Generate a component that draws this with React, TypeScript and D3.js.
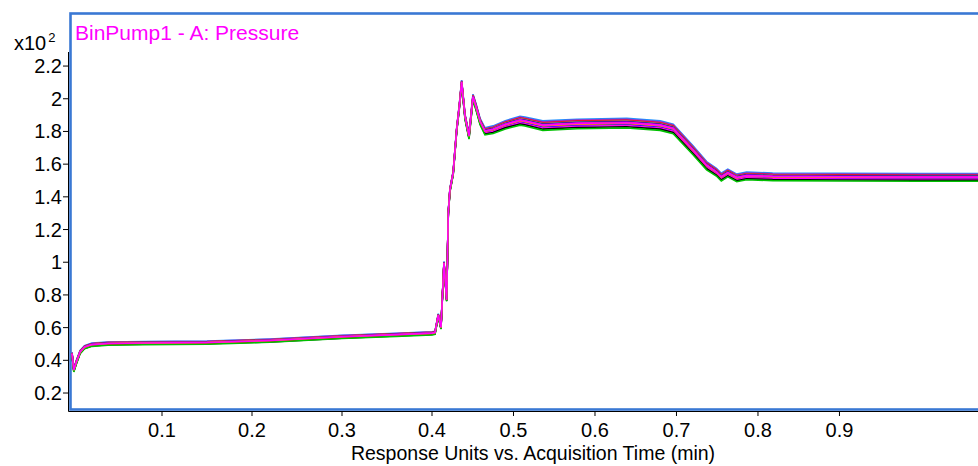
import React from "react";
import * as d3 from "d3";

// acquisition time (min) and pressure (x10^2 bar)
const times = [
  0.0, 0.002, 0.005, 0.009, 0.014, 0.022, 0.04, 0.08, 0.15, 0.22, 0.3, 0.36, 0.4,
  0.4037, 0.4077, 0.411, 0.4147, 0.418, 0.42, 0.422, 0.426, 0.4303, 0.4335, 0.4364,
  0.4405, 0.4454, 0.4503, 0.454, 0.459, 0.465, 0.475, 0.49, 0.508, 0.514, 0.536,
  0.578, 0.639, 0.68, 0.696, 0.72, 0.737, 0.749, 0.755, 0.763, 0.774, 0.786, 0.818,
  0.9, 1.0, 1.07,
];
const pressure = [
  0.44, 0.34, 0.39, 0.45, 0.48, 0.495, 0.502, 0.505, 0.508, 0.52, 0.543, 0.556, 0.565,
  0.568, 0.675, 0.6, 0.995, 0.77, 1.3, 1.44, 1.545, 1.81, 1.95, 2.1,
  1.89, 1.77, 2.01, 1.95, 1.86, 1.8, 1.81, 1.84, 1.865, 1.86, 1.835,
  1.845, 1.85, 1.835, 1.815, 1.686, 1.59, 1.55, 1.52, 1.545, 1.515, 1.527, 1.522,
  1.52, 1.518, 1.518,
];
// half width of the bundle of overlaid runs at each time
const spread = [
  0.01, 0.012, 0.012, 0.01, 0.01, 0.01, 0.01, 0.01, 0.01, 0.01, 0.01, 0.01, 0.01,
  0.01, 0.01, 0.01, 0.01, 0.01, 0.012, 0.012, 0.012, 0.012, 0.014, 0.014,
  0.016, 0.018, 0.018, 0.02, 0.02, 0.022, 0.024, 0.026, 0.028, 0.028, 0.03,
  0.03, 0.03, 0.03, 0.03, 0.028, 0.026, 0.024, 0.024, 0.024, 0.024, 0.024, 0.024,
  0.024, 0.024, 0.024,
];

// one entry per overlaid run: colour and its position inside the bundle
const runColors = [
  "#1e90ff", "#9932cc", "#ff0000", "#808080", "#00008b", "#ff00ff", "#8b4513",
  "#ff8c00", "#0000ff", "#ff00ff", "#000000", "#00c000", "#ff8c00", "#ff00ff",
];
const runShift = [1.0, 0.8, 0.6, 0.45, 0.3, 0.2, 0.05, -0.1, -0.3, -0.45, -0.7, -0.95, 0.0, 0.12];

const xTicks = [0.1, 0.2, 0.3, 0.4, 0.5, 0.6, 0.7, 0.8, 0.9];
const yTicks = [0.2, 0.4, 0.6, 0.8, 1.0, 1.2, 1.4, 1.6, 1.8, 2.0, 2.2];

const W = 978;
const H = 466;
const box = { left: 70.5, top: 13.5, bottom: 409.5 };

export default function App() {
  const x = d3.scaleLinear().domain([0, 0.4, 1.07]).range([72, 432, 978]);
  const y = d3.scaleLinear().domain([0.09, 2.286]).range([411, 52]);

  const runs = runColors.map((color, k) => ({
    color,
    pts: times.map((t, i) => [t, pressure[i] + runShift[k] * spread[i]] as [number, number]),
  }));

  const line = d3
    .line<[number, number]>()
    .x((d) => x(d[0]))
    .y((d) => y(d[1]));

  const font = "Arial, 'Liberation Sans', sans-serif";

  return (
    <svg
      width={W}
      height={H}
      style={{ position: "absolute", left: 0, top: 0, background: "#fff" }}
      fontFamily={font}
    >
      <defs>
        <clipPath id="plot">
          <rect x={box.left} y={box.top} width={W} height={box.bottom - box.top} />
        </clipPath>
      </defs>

      {/* frame */}
      <rect
        x={box.left}
        y={box.top}
        width={W}
        height={box.bottom - box.top}
        fill="none"
        stroke="#3a78d4"
        strokeWidth={2.6}
      />

      <g clipPath="url(#plot)">
        {runs.map((r, k) => (
          <path key={k} d={line(r.pts) || ""} fill="none" stroke={r.color} strokeWidth={1.6} />
        ))}
      </g>

      {/* y axis */}
      <line x1={68.5} x2={68.5} y1={52} y2={411.5} stroke="#000" strokeWidth={1} />
      {yTicks.map((v) => (
        <g key={v} transform={`translate(0,${y(v)})`}>
          <line x1={63} x2={68.5} stroke="#000" />
          <text x={62} dy="0.35em" textAnchor="end" fontSize={20} fill="#000">
            {d3.format("~g")(v)}
          </text>
        </g>
      ))}
      <text x={14} y={50} fontSize={20} fill="#000">
        x10
        <tspan fontSize={13} dy={-8} dx={2}>
          2
        </tspan>
      </text>

      {/* x axis */}
      <line x1={68.5} x2={W} y1={411.5} y2={411.5} stroke="#000" />
      {xTicks.map((v) => (
        <g key={v} transform={`translate(${x(v)},0)`}>
          <line y1={411.5} y2={416} stroke="#000" />
          <text y={437} textAnchor="middle" fontSize={20} fill="#000">
            {d3.format("~g")(v)}
          </text>
        </g>
      ))}
      <text x={533} y={460} textAnchor="middle" fontSize={19.5} fill="#000">
        Response Units vs. Acquisition Time (min)
      </text>

      <text x={75} y={40} fontSize={21} fill="#ff00ff">
        BinPump1 - A: Pressure
      </text>
    </svg>
  );
}
